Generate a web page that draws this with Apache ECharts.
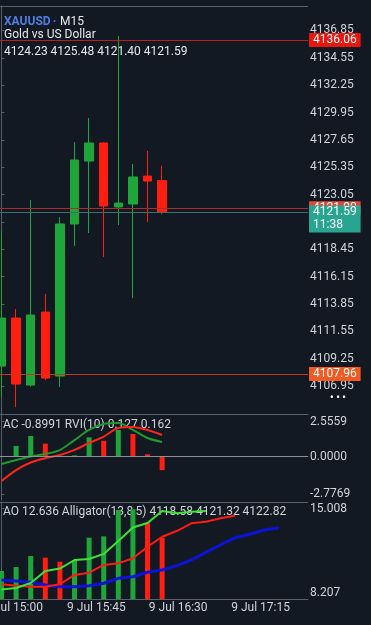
<!DOCTYPE html>
<html>
<head>
<meta charset="utf-8">
<script src="https://cdn.jsdelivr.net/npm/echarts@6/dist/echarts.min.js"></script>
<style>
    html, body { margin: 0; padding: 0; background: #121922; }
    #chart { width: 371px; height: 625px; }
</style>
</head>
<body>
<div id="chart"></div>
<script>
    // M15 candles (last one from the header)
    const opens  = [4108.63, 4112.67, 4107.03, 4113.17, 4107.79, 4120.58, 4125.87, 4127.39, 4122.01, 4122.26, 4124.61, 4124.23]
    const closes = [4112.67, 4107.12, 4112.92, 4107.62, 4120.58, 4125.96, 4127.39, 4122.09, 4122.34, 4124.53, 4124.19, 4121.59]
    const lows   = [4106.03, 4105.18, 4106.90, 4107.45, 4106.87, 4118.73, 4119.82, 4117.80, 4120.49, 4114.35, 4120.74, 4121.40]
    const highs  = [4119.99, 4113.43, 4122.59, 4114.69, 4121.16, 4127.47, 4129.49, 4127.47, 4136.39, 4125.62, 4126.72, 4125.48]

    // AC histogram + RVI lines
    const acValues   = [0, 0.77, 1.5, 0.94, 0.05, 0.08, 1.4, 1.15, 1.94, 1.65, 0.16, -1.0]
    const rviMain    = [-0.55, -0.26, 0, 0.18, 0.47, 1.2, 1.94, 2.38, 2.45, 1.94, 1.35, 1.06]
    const rviSignal  = [-1.79, -0.99, -0.44, -0.13, 0.11, 0.48, 0.99, 1.46, 2.08, 2.16, 1.94, 1.57]

    // AO histogram + Alligator (lips / teeth / jaw, shifted forward)
    const aoValues = [9.96, 10.28, 11.17, 11.04, 10.71, 10.85, 12.65, 12.76, 14.89, 14.95, 13.89, 12.636]
    const lips  = [8.47, 8.59, 8.99, 9.96, 10.16, 10.85, 10.93, 11.34, 12.38, 13.47, 13.84, 14.81, 14.62, 14.75, 14.81]
    const teeth = [8.89, 8.77, 8.69, 8.69, 8.89, 9.64, 9.82, 10.45, 10.58, 10.99, 11.92, 12.73, 13.19, 13.81, 13.94, 14.22, 14.43]
    const jaw   = [9.23, 9.15, 9.05, 8.83, 8.69, 8.69, 8.77, 8.97, 9.37, 9.50, 9.86, 10.04, 10.39, 10.85, 11.47, 12.06, 12.65, 12.93, 13.27, 13.46]

    // axis labels
    const priceTicks = [4106.95, 4109.25, 4111.55, 4113.85, 4116.15, 4118.45, 4120.75, 4123.05, 4125.35, 4127.65, 4129.95, 4132.25, 4134.55, 4136.85]
    const acTicks = [-2.7769, 0, 2.5559]
    const aoTicks = [8.207, 15.008]
    const timeTicks = [0.83, 6.5, 12.1, 17.74]
    const timeLabels = ['9 Jul 15:00', '9 Jul 15:45', '9 Jul 16:30', '9 Jul 17:15']

    // price levels: high, ask, bid, low
    const levelHigh = 4136.06
    const levelAsk = 4121.90
    const levelBid = 4121.59
    const levelLow = 4107.96
    const bidTime = '11:38'

    const UP = '#1fa63a'
    const DOWN = '#ff1e10'
    const AXIS = '#59616b'
    const LABEL = '#d2d4d8'
    const FONT = 'Roboto'

    const xMin = -0.103
    const xMax = 20.99

    const pairs = arr => arr.map((v, i) => [i, v])
    const trendColor = arr => (p) => {
        const i = p.dataIndex
        return i > 0 && arr[i] < arr[i - 1] ? DOWN : UP
    }

    const chart = echarts.init(document.getElementById('chart'))

    const xAxisBase = (grid, withLabels) => ({
        type: 'value',
        gridIndex: grid,
        min: xMin,
        max: xMax,
        splitLine: { show: false },
        axisTick: { show: false },
        axisLine: { show: true, lineStyle: { color: AXIS } },
        axisLabel: withLabels ? {
            customValues: timeTicks,
            color: LABEL,
            fontFamily: FONT,
            fontSize: 12,
            margin: 3,
            formatter: (v) => {
                let best = 0
                timeTicks.forEach((t, i) => { if (Math.abs(t - v) < Math.abs(timeTicks[best] - v)) best = i })
                return timeLabels[best]
            }
        } : { show: false }
    })

    const yAxisBase = (grid, min, max, ticks, digits) => ({
        type: 'value',
        gridIndex: grid,
        position: 'right',
        min: min,
        max: max,
        splitLine: { show: false },
        axisLine: { show: true, lineStyle: { color: AXIS } },
        axisTick: { show: true, customValues: ticks, length: 3, lineStyle: { color: AXIS } },
        axisLabel: {
            customValues: ticks,
            color: LABEL,
            fontFamily: FONT,
            fontSize: 12,
            margin: 2,
            formatter: v => v.toFixed(digits)
        }
    })

    const levelLine = (value, lineColor, boxColor, text, offsetY) => ({
        yAxis: value,
        lineStyle: { color: lineColor, width: 1, type: 'solid' },
        label: {
            show: true,
            position: 'end',
            distance: 1,
            formatter: text,
            color: '#ffffff',
            fontFamily: FONT,
            fontSize: 12,
            lineHeight: 13,
            backgroundColor: boxColor,
            padding: [1, 4, 0, 4],
            offset: [0, offsetY || 0]
        }
    })

    chart.setOption({
        animation: false,
        backgroundColor: '#121922',
        grid: [
            { left: 0, right: 63, top: 6, height: 408, outerBoundsMode: 'none' },
            { left: 0, right: 63, top: 414, height: 86, outerBoundsMode: 'none' },
            { left: 0, right: 63, top: 502, height: 97, outerBoundsMode: 'none' }
        ],
        xAxis: [xAxisBase(0, false), xAxisBase(1, false), xAxisBase(2, true)],
        yAxis: [
            yAxisBase(0, 4104.60, 4138.91, priceTicks, 2),
            yAxisBase(1, -3.18, 3.107, acTicks, 4),
            yAxisBase(2, 7.698, 15.536, aoTicks, 3)
        ],
        graphic: [
            { type: 'line', shape: { x1: 0, y1: 6.5, x2: 308, y2: 6.5 }, style: { stroke: AXIS, lineWidth: 1 } },
            { type: 'line', shape: { x1: 0, y1: 502.5, x2: 308, y2: 502.5 }, style: { stroke: AXIS, lineWidth: 1 } },
            { type: 'text', x: 4, y: 21.5, style: { text: 'XAUUSD', fill: '#4d7fe6', font: 'bold 12px Roboto', verticalAlign: 'middle' } },
            { type: 'text', x: 53, y: 21.5, style: { text: '•', fill: '#4d7fe6', font: '9px Roboto', verticalAlign: 'middle' } },
            { type: 'text', x: 60, y: 21.5, style: { text: 'M15', fill: '#e6e7ea', font: '12px Roboto', verticalAlign: 'middle' } },
            { type: 'text', x: 4, y: 35, style: { text: 'Gold vs US Dollar', fill: '#e6e7ea', font: '12px Roboto', verticalAlign: 'middle' } },
            { type: 'text', x: 4, y: 51.5, style: { text: [opens[11], highs[11], lows[11], closes[11]].map(v => v.toFixed(2)).join(' '), fill: '#e6e7ea', font: '12px Roboto', verticalAlign: 'middle' } },
            { type: 'text', x: 3, y: 425, style: { text: 'AC ' + (-0.8991).toFixed(4) + ' RVI(10) 0.127 0.162', fill: LABEL, font: '12px Roboto', verticalAlign: 'middle' } },
            { type: 'text', x: 3, y: 512, style: { text: 'AO ' + aoValues[11].toFixed(3) + ' Alligator(13,8,5) 4118.58 4121.32 4122.82', fill: LABEL, font: '12px Roboto', verticalAlign: 'middle' } },
            { type: 'text', x: 338, y: 398, style: { text: '• • •', fill: '#ffffff', font: 'bold 10px Roboto', align: 'center', verticalAlign: 'middle' } }
        ],
        series: [
            {
                name: 'XAUUSD',
                type: 'candlestick',
                xAxisIndex: 0,
                yAxisIndex: 0,
                barWidth: 9,
                data: opens.map((o, i) => [i, o, closes[i], lows[i], highs[i]]),
                itemStyle: {
                    color: UP,
                    color0: DOWN,
                    borderColor: UP,
                    borderColor0: DOWN,
                    borderWidth: 1
                },
                markLine: {
                    silent: true,
                    symbol: ['none', 'none'],
                    animation: false,
                    data: [
                        levelLine(levelAsk, '#a8302c', '#e0483c', levelAsk.toFixed(2)),
                        levelLine(levelHigh, '#b8201a', '#e8160f', levelHigh.toFixed(2)),
                        levelLine(levelLow, '#c0381e', '#f25a22', levelLow.toFixed(2))
                    ]
                }
            },
            {
                // bid level on its own layer so its box sits over the ask box
                name: 'Bid',
                type: 'line',
                xAxisIndex: 0,
                yAxisIndex: 0,
                z: 5,
                data: [],
                markLine: {
                    silent: true,
                    symbol: ['none', 'none'],
                    animation: false,
                    data: [
                        levelLine(levelBid, '#3d6d70', '#27a590', levelBid.toFixed(2) + '\n' + bidTime, 7)
                    ]
                }
            },
            {
                name: 'AC',
                type: 'bar',
                xAxisIndex: 1,
                yAxisIndex: 1,
                barWidth: 5,
                data: pairs(acValues),
                itemStyle: { color: trendColor(acValues) },
                markLine: {
                    silent: true,
                    symbol: ['none', 'none'],
                    label: { show: false },
                    lineStyle: { color: '#8c9198', width: 1, type: 'solid' },
                    data: [{ yAxis: 0 }]
                }
            },
            {
                name: 'RVI',
                type: 'line',
                xAxisIndex: 1,
                yAxisIndex: 1,
                showSymbol: false,
                smooth: 0.3,
                data: pairs(rviMain),
                lineStyle: { color: '#1f9a2c', width: 2 }
            },
            {
                name: 'RVI signal',
                type: 'line',
                xAxisIndex: 1,
                yAxisIndex: 1,
                showSymbol: false,
                smooth: 0.3,
                data: pairs(rviSignal),
                lineStyle: { color: '#ff2418', width: 2 }
            },
            {
                name: 'AO',
                type: 'bar',
                xAxisIndex: 2,
                yAxisIndex: 2,
                barWidth: 5,
                data: pairs(aoValues),
                itemStyle: { color: trendColor(aoValues) }
            },
            {
                name: 'Jaw',
                type: 'line',
                xAxisIndex: 2,
                yAxisIndex: 2,
                showSymbol: false,
                data: pairs(jaw),
                lineStyle: { color: '#0c12d6', width: 3 }
            },
            {
                name: 'Teeth',
                type: 'line',
                xAxisIndex: 2,
                yAxisIndex: 2,
                showSymbol: false,
                data: pairs(teeth),
                lineStyle: { color: '#ff1a12', width: 2 }
            },
            {
                name: 'Lips',
                type: 'line',
                xAxisIndex: 2,
                yAxisIndex: 2,
                showSymbol: false,
                data: pairs(lips),
                lineStyle: { color: '#3fe03a', width: 2 }
            }
        ]
    })
</script>
</body>
</html>
